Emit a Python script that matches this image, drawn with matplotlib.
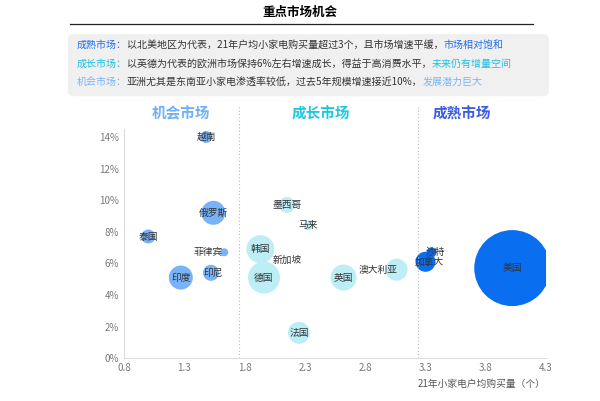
import matplotlib
matplotlib.use("Agg")
import matplotlib.pyplot as plt
from matplotlib.patches import FancyBboxPatch

plt.rcParams["font.family"] = "Noto Sans CJK SC"

# data
countries = ["越南", "俄罗斯", "泰国", "菲律宾", "印度", "印尼", "韩国", "德国", "墨西哥",
             "马来", "法国", "英国", "澳大利亚", "加拿大", "沙特", "美国"]
purchase = [1.48, 1.54, 1.00, 1.63, 1.27, 1.52, 1.93, 1.96, 2.15, 2.33, 2.25, 2.62, 3.06, 3.30, 3.35, 4.02]
growth = [14.0, 9.2, 7.7, 6.7, 5.1, 5.4, 6.9, 5.1, 9.7, 8.4, 1.6, 5.1, 5.6, 6.1, 6.7, 5.7]
bubble = [6, 12, 7, 4, 12, 8, 14, 16, 8, 5, 11, 13, 11, 10, 5, 38]
group = ["机会", "机会", "机会", "机会", "机会", "机会", "成长", "成长", "成长",
         "成长", "成长", "成长", "成长", "成熟", "成熟", "成熟"]
x_ticks = [0.8, 1.3, 1.8, 2.3, 2.8, 3.3, 3.8, 4.3]
y_ticks = [0, 2, 4, 6, 8, 10, 12, 14]

fill = {"机会": "#78b2f8", "成长": "#bdeef6", "成熟": "#0a6ef0"}
head = {"机会": "#6fb0f7", "成长": "#1ec8e0", "成熟": "#3a5ce6"}

fig = plt.figure(figsize=(6, 4.01), dpi=100)
ax = fig.add_axes([0.207, 0.107, 0.703, 0.571])

sizes = [(2 * r * 0.72) ** 2 for r in bubble]
for c, x, y, s, g in zip(countries, purchase, growth, sizes, group):
    ax.scatter(x, y, s=s, color=fill[g], edgecolors="none", zorder=2)
offs = {"新加坡": None}
for c, x, y in zip(countries, purchase, growth):
    dx, dy = 0, 0
    if c == "菲律宾":
        dx = -0.13
    if c == "印尼":
        dx = 0.02
    if c == "澳大利亚":
        dx = -0.15
    if c == "沙特":
        dx = 0.03
    if c == "加拿大":
        dx = 0.03
    ax.text(x + dx, y + dy, c, fontsize=7, color="#333333", ha="center", va="center", zorder=3)
ax.text(2.15, 6.2, "新加坡", fontsize=7, color="#333333", ha="center", va="center", zorder=3)

ax.set_xlim(0.8, 4.3)
ax.set_ylim(0, 14.5)
ax.set_xticks(x_ticks)
ax.set_xticklabels([f"{v:.1f}" for v in x_ticks])
ax.set_yticks(y_ticks)
ax.set_yticklabels([f"{v}%" for v in y_ticks])
ax.tick_params(length=0, labelsize=7, colors="#777777")
for s in ["top", "right"]:
    ax.spines[s].set_visible(False)
for s in ["left", "bottom"]:
    ax.spines[s].set_color("#dddddd")
ax.set_xlabel("21年小家电户均购买量（个）", fontsize=7, color="#555555", style="italic", loc="right")

for xv in [1.75, 3.24]:
    ax.plot([xv, xv], [0, 16], ls=(0, (1, 2)), lw=0.8, color="#bbbbbb", clip_on=False)
for xh, g in [(1.27, "机会"), (2.43, "成长"), (3.6, "成熟")]:
    ax.text(xh, 15.5, g + "市场", fontsize=10.5, fontweight="bold", color=head[g],
            ha="center", va="center", clip_on=False)

fig.text(0.5, 0.968, "重点市场机会", fontsize=9, fontweight="bold", ha="center", va="center")
fig.add_artist(plt.Line2D([0.117, 0.888], [0.94, 0.94], color="#222222", lw=0.9))
fig.add_artist(FancyBboxPatch((0.113, 0.76), 0.802, 0.155, boxstyle="round,pad=0,rounding_size=0.012",
                              transform=fig.transFigure, facecolor="#f0f0f0", edgecolor="none"))

lines = [
    [("成熟市场：", "#1f6fe8"), ("以北美地区为代表，21年户均小家电购买量超过3个，且市场增速平缓，", "#333333"), ("市场相对饱和", "#1f6fe8")],
    [("成长市场：", "#1ec0e0"), ("以英德为代表的欧洲市场保持6%左右增速成长，得益于高消费水平，", "#333333"), ("未来仍有增量空间", "#1ec0e0")],
    [("机会市场：", "#7ab4f5"), ("亚洲尤其是东南亚小家电渗透率较低，过去5年规模增速接近10%，", "#333333"), ("发展潜力巨大", "#7ab4f5")],
]
r = fig.canvas.get_renderer()
for i, parts in enumerate(lines):
    x0 = 0.128
    yv = 1 - (45 + 18.5 * i) / 401
    for txt, col in parts:
        t = fig.text(x0, yv, txt, fontsize=7.2, color=col, va="center")
        bb = t.get_window_extent(renderer=r)
        x0 += bb.width / fig.bbox.width

fig.savefig("out.png", dpi=100)
